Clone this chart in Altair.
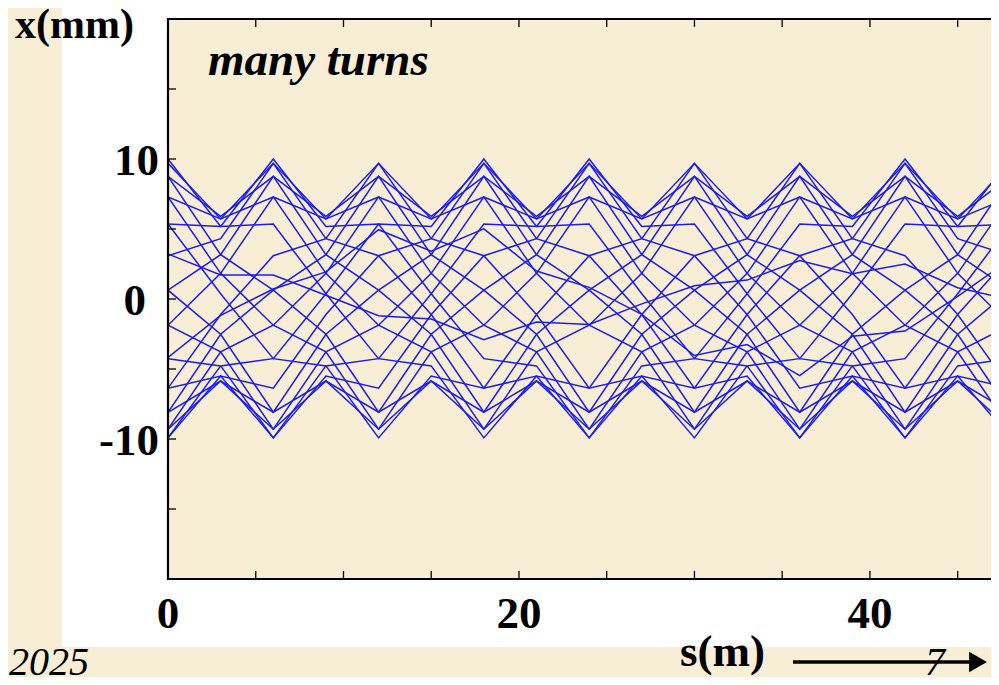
import altair as alt
import pandas as pd

# ---------------- data ----------------
s_points = [0, 3, 6, 9, 12, 15, 18, 21, 24, 27, 30, 33, 36, 39, 42, 45, 48]

traces = [
    [10.0, 5.18, 5.36, 0.37, -4.26, -4.78, -9.92, -5.50, -6.37, -1.11, 3.09, 4.31, 9.69, 5.72, 7.29, 1.83, -1.87],
    [5.36, 0.37, -4.26, -4.78, -9.92, -5.50, -6.37, -1.11, 3.09, 4.31, 9.69, 5.72, 7.29, 1.83, -1.87, -3.77, -9.30],
    [-4.26, -4.78, -9.92, -5.50, -6.37, -1.11, 3.09, 4.31, 9.69, 5.72, 7.29, 1.83, -1.87, -3.77, -9.30, -5.86, -8.09],
    [-9.92, -5.50, -6.37, -1.11, 3.09, 4.31, 9.69, 5.72, 7.29, 1.83, -1.87, -3.77, -9.30, -5.86, -8.09, -2.52, 0.63],
    [-6.37, -1.11, 3.09, 4.31, 9.69, 5.72, 7.29, 1.83, -1.87, -3.77, -9.30, -5.86, -8.09, -2.52, 0.63, 3.17, 8.76],
    [3.09, 4.31, 9.69, 5.72, 7.29, 1.83, -1.87, -3.77, -9.30, -5.86, -8.09, -2.52, 0.63, 3.17, 8.76, 5.91, 8.76],
    [9.69, 5.72, 7.29, 1.83, -1.87, -3.77, -9.30, -5.86, -8.09, -2.52, 0.63, 3.17, 8.76, 5.91, 8.76, 3.17, 0.63],
    [7.29, 1.83, -1.87, -3.77, -9.30, -5.86, -8.09, -2.52, 0.63, 3.17, 8.76, 5.91, 8.76, 3.17, 0.63, -2.52, -8.09],
    [-1.87, -3.77, -9.30, -5.86, -8.09, -2.52, 0.63, 3.17, 8.76, 5.91, 8.76, 3.17, 0.63, -2.52, -8.09, -5.86, -9.30],
    [-9.30, -5.86, -8.09, -2.52, 0.63, 3.17, 8.76, 5.91, 8.76, 3.17, 0.63, -2.52, -8.09, -5.86, -9.30, -3.77, -1.87],
    [-8.09, -2.52, 0.63, 3.17, 8.76, 5.91, 8.76, 3.17, 0.63, -2.52, -8.09, -5.86, -9.30, -3.77, -1.87, 1.83, 7.29],
    [0.63, 3.17, 8.76, 5.91, 8.76, 3.17, 0.63, -2.52, -8.09, -5.86, -9.30, -3.77, -1.87, 1.83, 7.29, 5.72, 9.69],
    [8.76, 5.91, 8.76, 3.17, 0.63, -2.52, -8.09, -5.86, -9.30, -3.77, -1.87, 1.83, 7.29, 5.72, 9.69, 4.31, 3.09],
    [8.76, 3.17, 0.63, -2.52, -8.09, -5.86, -9.30, -3.77, -1.87, 1.83, 7.29, 5.72, 9.69, 4.31, 3.09, -1.11, -6.37],
    [0.63, -2.52, -8.09, -5.86, -9.30, -3.77, -1.87, 1.83, 7.29, 5.72, 9.69, 4.31, 3.09, -1.11, -6.37, -5.50, -9.92],
    [-8.09, -5.86, -9.30, -3.77, -1.87, 1.83, 7.29, 5.72, 9.69, 4.31, 3.09, -1.11, -6.37, -5.50, -9.92, -4.78, -4.26],
    [-9.30, -3.77, -1.87, 1.83, 7.29, 5.72, 9.69, 4.31, 3.09, -1.11, -6.37, -5.50, -9.92, -4.78, -4.26, 0.37, 5.36],
    [-1.87, 1.83, 7.29, 5.72, 9.69, 4.31, 3.09, -1.11, -6.37, -5.50, -9.92, -4.78, -4.26, 0.37, 5.36, 5.18, 10.0],
    [7.29, 5.72, 9.69, 4.31, 3.09, -1.11, -6.37, -5.50, -9.92, -4.78, -4.26, 0.37, 5.36, 5.18, 10.0, 5.18, 5.36],
    [-6.37, -5.50, -9.92, -4.78, -4.26, 0.37, 5.36, 5.18, 10.0, 5.18, 5.36, 0.37, -4.26, -4.78, -9.92, -5.50, -6.37],
    [-9.92, -4.78, -4.26, 0.37, 5.36, 5.18, 10.0, 5.18, 5.36, 0.37, -4.26, -4.78, -9.92, -5.50, -6.37, -1.11, 3.09],
    [-4.17, -1.17, 0.71, 1.94, 4.95, 3.41, 5.01, 2.00, 0.83, -1.10, -4.04, -3.26, -5.48, -2.66, -2.29, 0.19, 2.84],
    [5.36, 5.18, 10.0, 5.18, 5.36, 0.37, -4.26, -4.78, -9.92, -5.50, -6.37, -1.11, 3.09, 4.31, 9.69, 5.72, 7.29],
    [3.21, 1.71, 1.71, 0.27, -1.19, -1.43, -2.90, -1.64, -1.82, -0.35, 0.95, 1.35, 2.75, 1.80, 2.50, 0.80, -0.05],
]

x_tick_values = [5, 10, 15, 20, 25, 30, 35, 40, 45]
x_label_values = [0, 20, 40]
y_tick_values = [-15, -10, -5, 0, 5, 10, 15]
y_label_values = [10, -10]
y_label_texts = ["10", "-10"]
y_label_zero = [0]
y_label_zero_text = ["0"]

title_y = "x(mm)"
title_x = "s(m)"
note_text = "many turns"
year_text = "2025"
page_text = "7"

# ---------------- chart ----------------
W, H = 823, 560
FONT = "Liberation Serif"
BLUE = "#1a1cf2"
BEIGE = "#F8EED6"

rows = []
for i, tr in enumerate(traces):
    for s, x in zip(s_points, tr):
        rows.append({"turn": i, "s": s, "x": x})
df = pd.DataFrame(rows)

xs = alt.Scale(domain=[0, 46.9], nice=False, zero=False)
ys = alt.Scale(domain=[-20, 20], nice=False, zero=False)

one = pd.DataFrame({"a": [0]})
base1 = alt.Chart(one)

# white margins of the pasted picture
white_left = base1.mark_rect(color="white").encode(
    x=alt.value(-106), x2=alt.value(-1), y=alt.value(-11), y2=alt.value(628))
white_bottom = base1.mark_rect(color="white").encode(
    x=alt.value(-106), x2=alt.value(W), y=alt.value(561), y2=alt.value(628))
white_top = base1.mark_rect(color="white").encode(
    x=alt.value(-106), x2=alt.value(W), y=alt.value(-11), y2=alt.value(-1))

frame_left = base1.mark_rule(color="black", strokeWidth=2.2).encode(
    x=alt.value(0), y=alt.value(-1), y2=alt.value(561))
frame_bottom = base1.mark_rule(color="black", strokeWidth=2.2).encode(
    x=alt.value(-1), x2=alt.value(W), y=alt.value(560))
frame_top = base1.mark_rule(color="black", strokeWidth=2.2).encode(
    x=alt.value(-1), x2=alt.value(W), y=alt.value(0))

xt = alt.Chart(pd.DataFrame({"v": x_tick_values}))
ticks_bottom = xt.mark_rule(color="black", strokeWidth=1.3).encode(
    x=alt.X("v:Q", scale=xs, axis=None), y=alt.value(560), y2=alt.value(552))
ticks_top = xt.mark_rule(color="black", strokeWidth=1.3).encode(
    x=alt.X("v:Q", scale=xs, axis=None), y=alt.value(0), y2=alt.value(8))
yt = alt.Chart(pd.DataFrame({"v": y_tick_values}))
ticks_left = yt.mark_rule(color="black", strokeWidth=1.3).encode(
    y=alt.Y("v:Q", scale=ys, axis=None), x=alt.value(0), x2=alt.value(8))

x_labels = alt.Chart(pd.DataFrame({"v": x_label_values})).mark_text(
    font=FONT, fontSize=45, fontWeight="bold", color="black", baseline="alphabetic", align="center"
).encode(x=alt.X("v:Q", scale=xs, axis=None), y=alt.value(609), text="v:Q")

y_labels = alt.Chart(pd.DataFrame({"v": y_label_values, "t": y_label_texts})).mark_text(
    font=FONT, fontSize=45, fontWeight="bold", color="black", baseline="alphabetic", align="right", dy=16
).encode(y=alt.Y("v:Q", scale=ys, axis=None), x=alt.value(-9), text="t:N")
y_label0 = alt.Chart(pd.DataFrame({"v": y_label_zero, "t": y_label_zero_text})).mark_text(
    font=FONT, fontSize=45, fontWeight="bold", color="black", baseline="alphabetic", align="right", dy=16
).encode(y=alt.Y("v:Q", scale=ys, axis=None), x=alt.value(-22), text="t:N")

lines = alt.Chart(df).mark_line(color=BLUE, strokeWidth=1.5, clip=True).encode(
    x=alt.X("s:Q", scale=xs, axis=None),
    y=alt.Y("x:Q", scale=ys, axis=None),
    detail="turn:N",
)

t_ytitle = base1.mark_text(font=FONT, fontSize=42, fontWeight="bold", align="left",
                           baseline="alphabetic", color="black").encode(
    x=alt.value(-153), y=alt.value(19), text=alt.value(title_y))
t_note = base1.mark_text(font=FONT, fontSize=47, fontWeight="bold", fontStyle="italic",
                         align="left", baseline="alphabetic", color="black").encode(
    x=alt.value(40), y=alt.value(56), text=alt.value(note_text))
t_year = base1.mark_text(font=FONT, fontSize=40, fontStyle="italic", align="left",
                         baseline="alphabetic", color="black").encode(
    x=alt.value(-159), y=alt.value(656), text=alt.value(year_text))
t_xtitle = base1.mark_text(font=FONT, fontSize=45, fontWeight="bold", align="left",
                           baseline="alphabetic", color="black").encode(
    x=alt.value(512), y=alt.value(647), text=alt.value(title_x))
arrow_line = base1.mark_rule(color="black", strokeWidth=3.5).encode(
    x=alt.value(625), x2=alt.value(805), y=alt.value(643))
arrow_head = base1.mark_point(shape="triangle-right", filled=True, color="black",
                              size=420, opacity=1).encode(
    x=alt.value(810), y=alt.value(643))
t_page = base1.mark_text(font=FONT, fontSize=40, fontStyle="italic", align="left",
                         baseline="alphabetic", color="black").encode(
    x=alt.value(757), y=alt.value(656), text=alt.value(page_text))

chart = alt.layer(
    white_left, white_bottom, white_top,
    lines,
    frame_left, frame_bottom, frame_top,
    ticks_bottom, ticks_top, ticks_left,
    x_labels, y_labels, y_label0,
    t_ytitle, t_note, t_year, t_xtitle, arrow_line, arrow_head, t_page,
).properties(
    width=W, height=H,
    autosize=alt.AutoSizeParams(type="none"),
    padding={"left": 160, "top": 11, "right": 0, "bottom": 98},
    background=BEIGE,
).configure_view(strokeWidth=0, fill=None)

chart.save("out.html", embed_options={"renderer": "svg", "actions": False})
